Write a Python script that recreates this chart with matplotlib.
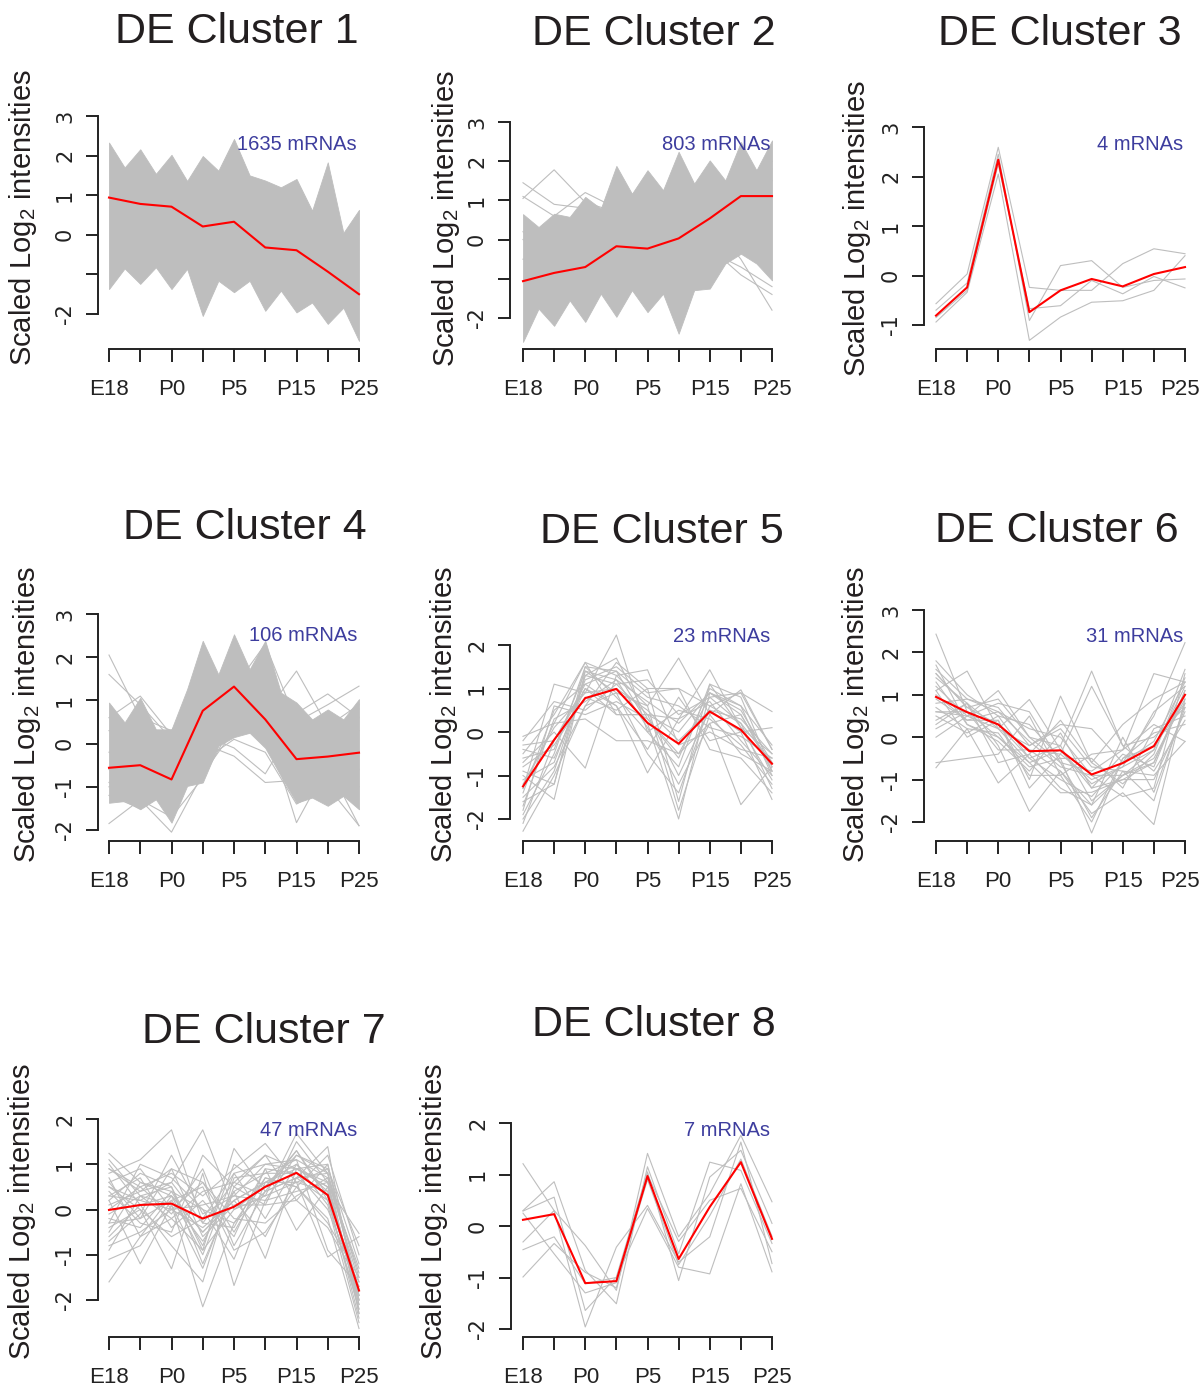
import numpy as np
import matplotlib
matplotlib.use("Agg")
import matplotlib.pyplot as plt
from matplotlib import font_manager
from matplotlib.transforms import ScaledTranslation

W, H = 1202, 1393

stages = ["E18", "", "P0", "", "P5", "", "P15", "", "P25"]
steps = np.arange(1, 10)
half_steps = np.linspace(1, 9, 17)   # knots plus midpoints, for the dense bands

titles = ["DE Cluster %d" % i for i in range(1, 9)]
counts = ["1635 mRNAs", "803 mRNAs", "4 mRNAs", "106 mRNAs",
          "23 mRNAs", "31 mRNAs", "47 mRNAs", "7 mRNAs"]

# red cluster means
mean1 = [0.94, 0.78, 0.71, 0.21, 0.33, -0.32, -0.39, -0.93, -1.50]
mean2 = [-1.06, -0.85, -0.70, -0.17, -0.23, 0.03, 0.54, 1.11, 1.11]
mean3 = [-0.81, -0.24, 2.34, -0.74, -0.30, -0.07, -0.22, 0.03, 0.17]
mean4 = [-0.56, -0.50, -0.83, 0.76, 1.32, 0.56, -0.36, -0.30, -0.21]
mean5 = [-1.25, -0.18, 0.78, 0.99, 0.21, -0.27, 0.47, 0.05, -0.73]
mean6 = [0.95, 0.59, 0.30, -0.33, -0.31, -0.88, -0.61, -0.21, 1.00]
mean7 = [-0.01, 0.10, 0.13, -0.20, 0.06, 0.50, 0.81, 0.32, -1.79]
mean8 = [0.12, 0.23, -1.11, -1.07, 0.97, -0.64, 0.37, 1.24, -0.25]

# outer edge of the solid gray mass (clusters 1, 2, 4), read at knots and midpoints
upper1 = [2.33, 1.70, 2.16, 1.54, 2.02, 1.36, 1.99, 1.62, 2.42, 1.50, 1.37, 1.20, 1.41, 0.61, 1.83, 0.05, 0.63]
lower1 = [-1.37, -0.85, -1.24, -0.82, -1.37, -0.86, -2.05, -1.16, -1.45, -1.16, -1.92, -1.41, -1.96, -1.71, -2.25, -1.84, -2.68]
upper2 = [0.65, 0.32, 0.66, 0.58, 1.09, 0.79, 1.88, 1.17, 1.77, 1.26, 2.24, 1.43, 2.02, 1.51, 2.49, 1.77, 2.53]
lower2 = [-2.61, -1.76, -2.20, -1.55, -2.10, -1.38, -1.97, -1.29, -1.85, -1.38, -2.40, -1.29, -1.25, -0.61, -0.36, -0.61, -1.04]
upper4 = [0.95, 0.49, 1.06, 0.33, 0.33, 1.26, 2.38, 1.60, 2.53, 1.72, 2.38, 1.18, 0.95, 0.56, 0.79, 0.56, 1.03]
lower4 = [-1.37, -1.33, -1.52, -1.29, -1.83, -0.98, -0.90, -0.05, 0.15, 0.25, -0.10, -0.75, -1.37, -1.25, -1.44, -1.21, -1.52]

# individual gray profiles
lines1 = []
lines2 = [
    [1.45, 0.90, 0.80, 0.50, 0.40, 0.60, 0.90, 1.30, 1.50],
    [1.05, 1.78, 0.95, 0.70, 0.60, 0.30, 0.80, 1.10, 1.80],
    [1.10, 0.60, 1.20, 0.80, 0.30, 0.90, 1.00, 1.50, 2.00],
    [0.20, -0.30, 0.20, 0.50, 0.60, 1.00, 0.50, -0.50, -1.80],
    [-0.50, -0.20, 0.00, 0.30, 0.40, 0.20, -0.20, -0.90, -1.40],
    [0.00, -0.50, -0.40, 0.00, 0.20, 0.30, -0.30, -0.70, -1.20],
]
lines3 = [
    [-0.57, 0.03, 2.59, -0.24, -0.30, -0.30, 0.24, 0.54, 0.44],
    [-0.70, -0.15, 2.45, -0.91, 0.20, 0.30, -0.24, -0.10, -0.07],
    [-0.94, -0.34, 2.05, -1.31, -0.84, -0.54, -0.51, -0.30, 0.40],
    [-0.85, -0.30, 2.25, -0.67, -0.61, -0.10, -0.37, -0.02, -0.25],
]
lines4 = [
    [2.05, 0.60, 0.30, 1.30, 1.60, 1.00, 0.80, 0.20, 0.30],
    [1.60, 0.90, 0.10, 1.10, 1.30, 2.30, 0.50, 0.90, 1.33],
    [-1.85, -1.30, -2.05, -0.70, 0.30, 0.50, -1.83, -0.50, -1.90],
    [-0.20, -0.40, -0.30, 0.00, -0.29, -0.90, -0.85, -0.60, -0.20],
    [-0.90, -1.30, -1.70, -0.80, 0.50, 0.70, 1.68, 0.40, 0.90],
    [0.30, 0.20, 0.30, 0.90, 0.60, 0.40, 0.70, 1.15, 0.60],
    [-0.60, -0.90, -1.10, -0.40, 0.10, -0.20, -1.40, -1.00, -1.90],
    [-1.20, -1.50, -1.00, -0.30, 0.20, 0.30, -0.80, -1.40, -1.00],
    [0.60, 1.10, 0.20, 0.50, 0.90, 0.10, -0.40, 0.30, -0.60],
    [-1.00, -0.60, 0.30, 0.20, -0.10, -0.70, 0.50, -0.20, 0.80],
]
lines5 = [
    [-2.28, -1.00, 0.60, 1.60, 1.00, -1.60, 1.10, 0.80, -0.90],
    [-1.90, -0.50, 1.50, 1.40, 0.20, -2.00, 0.90, 0.50, -0.70],
    [-1.60, -1.20, 1.30, 1.10, 0.40, -1.00, 0.50, 0.00, -1.55],
    [-1.30, 1.10, 0.90, 2.23, 0.00, 0.50, 0.30, -0.30, -1.20],
    [-1.00, -1.55, 1.40, 0.90, 0.60, 1.70, 0.40, 0.97, -0.40],
    [-0.70, 0.00, -0.83, 1.30, 1.43, -0.30, 0.00, -0.40, -0.60],
    [-0.50, 0.40, 1.60, 0.40, 0.40, 0.30, 1.43, 0.10, -0.50],
    [-0.30, -0.20, 1.00, 0.40, 0.40, 0.00, 0.90, 0.60, -0.30],
    [-0.10, 0.20, 0.30, -0.20, -0.20, -0.50, 0.20, -1.67, -0.80],
    [-1.10, -0.70, 1.20, 1.50, 0.90, 1.00, 0.60, 0.90, 0.47],
    [-1.40, 0.50, 1.10, 0.60, -0.94, 0.30, 0.70, -0.20, -1.00],
    [-0.80, -0.30, 0.80, 0.50, 1.00, 1.00, -0.40, -0.60, -1.40],
    [-2.00, -0.90, 1.30, 1.70, 0.30, -0.50, 0.80, 0.20, -0.70],
    [-1.70, 0.30, 0.70, 1.20, 0.10, -1.20, 0.20, 0.40, -0.80],
    [-0.90, -1.20, 1.50, 0.80, 0.00, -0.80, 1.10, 0.10, -1.10],
    [-1.20, 0.10, 0.90, 1.00, 0.50, -0.20, 0.50, 0.30, -0.50],
    [-0.60, -0.40, 1.40, 1.20, 0.70, 0.20, 0.90, 0.40, -0.90],
    [-1.50, -0.80, 0.60, 0.90, -0.50, -1.40, 0.60, 0.20, -1.30],
    [-2.10, -0.20, 1.10, 1.40, 0.80, 0.60, 0.10, -0.10, -0.60],
    [-1.80, 0.60, 0.40, 0.70, 0.30, -0.60, 1.00, 0.60, -1.00],
    [-0.40, -0.60, 1.00, 0.60, -0.40, 0.80, -0.20, 0.00, 0.10],
    [-1.30, 0.20, 1.60, 1.30, 0.60, -1.80, 0.40, -0.50, -0.90],
    [-0.20, 0.70, 0.50, 1.10, 1.20, 0.40, 0.80, 0.90, -0.40],
]
lines6 = [
    [2.43, 0.60, 0.30, -0.30, -0.40, -1.00, -0.70, -0.30, 1.20],
    [1.80, 1.00, 0.50, -0.50, -0.20, -1.50, -0.90, -0.60, 1.00],
    [1.50, 0.70, 0.90, 0.00, -0.60, -0.80, -0.30, 1.50, 1.30],
    [1.30, 0.30, 0.00, -0.70, -0.50, -2.26, -0.50, -0.20, 0.80],
    [1.10, 1.56, 0.20, 0.89, -0.30, -1.20, -1.00, -1.00, 0.60],
    [0.90, 0.40, 0.40, -1.00, 0.97, -0.60, -1.10, -0.40, 1.40],
    [0.60, 0.50, 1.10, 0.00, -0.20, 1.56, -0.20, -0.80, 0.40],
    [0.40, 0.80, -0.20, -1.75, -0.80, -1.80, -1.31, -2.06, 0.90],
    [-0.60, -0.50, -0.40, 0.50, -0.90, -0.40, -0.30, 0.30, -0.10],
    [-0.72, 0.20, -1.08, -0.40, -1.20, -1.60, 0.00, -1.30, 0.70],
    [1.60, 0.90, 0.70, -0.20, 0.30, 0.20, -0.60, 0.50, 2.23],
    [0.20, 0.60, 0.00, -0.60, -1.31, -1.30, -1.00, -0.60, 1.10],
    [1.00, 0.40, 0.60, 0.20, 0.00, -0.90, -1.40, -1.20, 1.50],
    [0.70, 0.20, 0.10, -0.90, -0.90, -2.00, -0.50, 0.10, 0.30],
    [1.40, 0.80, -0.60, -0.40, 0.40, -0.60, 0.30, 0.90, 1.30],
    [0.00, 0.50, 0.80, 0.60, -0.60, -1.90, -0.80, -0.90, -0.10],
    [1.20, 0.50, 0.20, -0.60, -0.30, -1.10, -0.70, 0.60, 1.20],
    [0.80, 0.90, 0.60, -0.10, -0.70, -0.90, -0.90, -0.50, 0.90],
    [1.70, 0.30, -0.10, -0.80, 0.10, -1.20, -0.40, -0.70, 1.10],
    [0.50, 0.10, 0.50, 0.30, -0.50, -0.50, -1.20, 0.20, 0.50],
    [1.50, 0.70, 0.30, -0.50, -1.00, -1.40, -0.60, -0.10, 1.30],
    [0.30, 0.80, 0.20, -0.20, 0.20, -0.70, -0.80, -1.50, 0.80],
    [1.10, 0.00, 0.40, -1.20, -0.40, 1.20, -0.20, 0.00, 0.70],
    [0.60, 0.60, -0.30, -0.30, -0.80, -1.60, -0.90, -0.30, 1.60],
]
lines7 = [
    [1.24, 0.60, 0.30, -0.50, 0.20, 0.60, 1.00, 0.40, -1.80],
    [0.80, 1.10, 1.76, -0.30, 0.60, 1.20, 0.90, 0.60, -2.00],
    [0.50, 0.20, 0.60, 1.76, 0.00, 0.30, 1.68, 0.80, -1.50],
    [-1.60, -0.60, -0.20, -0.90, 1.35, 0.40, 0.70, 1.39, -2.30],
    [0.20, -1.20, 0.10, -2.15, -0.30, 0.70, 0.50, -0.20, -2.63],
    [-0.40, 0.00, -1.31, 0.80, -1.68, 0.20, 1.20, 0.90, -1.20],
    [0.90, 0.50, 0.80, 0.30, 0.90, 1.46, 0.60, -1.05, -0.60],
    [-0.90, 0.30, 0.50, -1.20, 0.40, -1.08, 0.90, 1.00, -1.90],
    [0.30, 0.70, -0.40, 0.20, -0.60, 0.90, -0.46, 0.50, -0.53],
    [-0.20, -0.40, 0.40, -0.80, 1.00, 0.50, 1.30, 0.20, -2.20],
    [0.60, 0.90, 0.00, 0.60, -0.20, -0.30, 0.30, 0.70, -1.40],
    [-0.70, -0.10, 1.20, -0.10, 0.30, 1.00, 1.10, -0.90, -1.70],
    [1.00, 0.10, -0.80, -1.60, 0.70, 0.80, 0.80, 0.30, -2.40],
    [-1.10, -0.80, 0.20, 0.50, -0.90, -0.50, 0.50, 1.20, -1.00],
    [0.10, 0.40, 0.90, -0.60, 0.10, 0.10, 1.50, 0.60, -2.10],
    [0.40, -0.30, -0.50, 1.20, 0.50, 1.20, 0.20, -0.40, -1.60],
    [-0.30, 1.00, 0.70, 0.00, -1.10, 0.60, 0.60, 0.90, -0.80],
    [0.70, -0.60, 0.30, -1.00, 0.80, -0.20, 1.00, 0.10, -2.50],
    [0.30, 0.20, 0.00, -0.40, 0.20, 0.60, 0.90, 0.50, -1.90],
    [-0.50, 0.60, 0.40, 0.00, -0.30, 0.40, 0.70, 0.20, -2.20],
    [0.60, -0.20, 0.20, -0.70, 0.40, 0.80, 1.10, 0.70, -1.60],
    [-0.10, 0.30, -0.20, 0.40, 0.60, 0.30, 0.60, 0.40, -2.00],
    [0.90, 0.40, 0.60, -0.30, -0.40, 0.90, 0.80, 0.00, -1.70],
    [-0.80, -0.50, 0.00, 0.10, 0.30, 0.20, 0.40, 0.60, -1.30],
    [0.20, 0.80, 0.50, -0.90, 0.00, 0.50, 1.20, 0.80, -2.30],
    [-0.30, -0.20, 0.90, 0.60, -0.50, 0.70, 0.50, -0.30, -1.50],
    [0.50, 0.00, -0.60, -0.20, 0.80, 1.00, 0.90, 0.50, -2.10],
    [-0.60, 0.10, 0.30, -0.50, 0.20, -0.60, 0.70, 0.80, -1.80],
    [0.00, 0.50, -0.10, 0.90, -0.80, 0.40, 1.30, 0.30, -1.90],
    [1.10, 0.30, 0.10, -1.30, 0.50, 0.10, 0.20, 1.00, -2.00],
]
lines8 = [
    [1.21, 0.30, -0.38, -1.25, 1.41, -0.21, 0.63, 1.76, 0.47],
    [0.30, 0.86, -0.86, -1.51, 1.15, -0.54, 1.24, 1.08, -0.34],
    [0.29, 0.56, -1.64, -0.99, 1.05, -1.06, 0.95, 1.47, 0.05],
    [-0.31, 0.30, -1.96, -0.41, 0.40, -0.70, -0.21, 1.63, -0.73],
    [-0.46, -0.21, -1.12, -1.00, 0.34, -0.80, -0.93, 0.82, -0.89],
    [-0.99, -0.34, -0.90, -1.20, 1.00, -0.30, 0.50, 0.73, -0.50],
    [0.25, -0.54, -1.30, -1.10, 0.90, -0.75, 0.20, 1.30, -0.20],
]

means = [mean1, mean2, mean3, mean4, mean5, mean6, mean7, mean8]
profiles = [lines1, lines2, lines3, lines4, lines5, lines6, lines7, lines8]
bands = [(upper1, lower1), (upper2, lower2), None, (upper4, lower4),
         None, None, None, None]

# pixel layout: y-axis x, E18 x, P25 x, x-axis y,
# lowest y tick and its y, highest y tick and its y
frames = [
    (98, 109, 359, 349, -2, 314, 3, 116),
    (510, 523, 772, 349, -2, 318, 3, 122),
    (924, 936, 1185, 349, -1, 325, 3, 127),
    (98, 109, 359, 841, -2, 830, 3, 614),
    (510, 523, 772, 841, -2, 819, 2, 645),
    (924, 936, 1185, 841, -2, 822, 3, 610),
    (98, 109, 359, 1337, -2, 1300, 2, 1119),
    (511, 523, 772, 1337, -2, 1329, 2, 1123),
]
title_pos = [(115, 43), (532, 45), (938, 45), (123, 539),
             (540, 543), (935, 542), (142, 1043), (532, 1036)]
count_pos = [(357, 145), (770, 145), (1183, 145), (357, 636),
             (770, 637), (1183, 637), (357, 1131), (770, 1131)]
ylab_pos = [(23, 218), (446, 219), (857, 229), (27, 715),
            (444, 715), (856, 715), (22, 1212), (434, 1212)]
skip_minus_one = [True, True, False, False, False, False, False, False]

names = {f.name for f in font_manager.fontManager.ttflist}
if "Liberation Sans Narrow" in names:
    xfont, xsize, csize = "Liberation Sans Narrow", 18, 18
else:
    xfont, xsize, csize = "Liberation Sans", 16, 14.5

plt.rcParams["font.family"] = ["Liberation Sans", "DejaVu Sans"]
plt.rcParams["mathtext.fontset"] = "custom"
plt.rcParams["mathtext.rm"] = "Liberation Sans"
plt.rcParams["mathtext.it"] = "Liberation Sans:italic"

GRAY = "#bebebe"
INK = "#222222"

fig = plt.figure(figsize=(W / 100, H / 100), dpi=100)

for i in range(8):
    yax, e18, p25, xax, tmin, ybot, tmax, ytop = frames[i]
    sp = (p25 - e18) / 8.0
    ppu = (ybot - ytop) / float(tmax - tmin)
    y0 = ybot + tmin * ppu
    x_lo = 1 - (e18 - yax) / sp
    x_hi = 9.35
    top = ytop - 20
    ax = fig.add_axes([yax / W, 1 - xax / H, (x_hi - x_lo) * sp / W, (xax - top) / H])
    ax.set_xlim(x_lo, x_hi)
    ax.set_ylim((y0 - xax) / ppu, (y0 - top) / ppu)

    if bands[i] is not None:
        up, lo = bands[i]
        ax.fill_between(half_steps, lo, up, color=GRAY, lw=0.6, edgecolor=GRAY)
    for prof in profiles[i]:
        ax.plot(steps, prof, color=GRAY, lw=0.8)
    ax.plot(steps, means[i], color="red", lw=1.5)

    for side in ("top", "right"):
        ax.spines[side].set_visible(False)
    ax.spines["left"].set_bounds(tmin, tmax)
    ax.spines["bottom"].set_bounds(1, 9)
    for side in ("left", "bottom"):
        ax.spines[side].set_linewidth(1.4)
        ax.spines[side].set_color(INK)

    ax.set_xticks(steps)
    ax.set_xticklabels(stages, fontfamily=xfont, fontsize=xsize, color=INK)
    yt = list(range(tmin, tmax + 1))
    ylabels = ["" if (v == -1 and skip_minus_one[i]) else str(v) for v in yt]
    ax.set_yticks(yt)
    ax.set_yticklabels(ylabels, fontfamily="DejaVu Sans", fontsize=15,
                       color=INK, rotation=90, va="center")
    ax.tick_params(axis="x", length=9.5, width=1.4, pad=12, color=INK)
    ax.tick_params(axis="y", length=8.5, width=1.4, pad=8, color=INK)

    # right-hand column: keep the last stage label inside the canvas
    if p25 + 20 > W:
        last = ax.get_xticklabels()[-1]
        last.set_transform(last.get_transform() +
                           ScaledTranslation(-0.05, 0, fig.dpi_scale_trans))

    tx, ty = title_pos[i]
    fig.text(tx / W, 1 - ty / H, titles[i], fontsize=31, color="#231f20",
             ha="left", va="baseline")
    cx, cy = count_pos[i]
    fig.text(cx / W, 1 - cy / H, counts[i], fontsize=csize, color="#3d3d9e",
             ha="right", va="center")
    lx, ly = ylab_pos[i]
    fig.text(lx / W, 1 - ly / H, "Scaled Log$_2$ intensities", fontsize=21,
             color="#231f20", rotation=90, ha="center", va="center")

fig.savefig("out.png", dpi=100)
